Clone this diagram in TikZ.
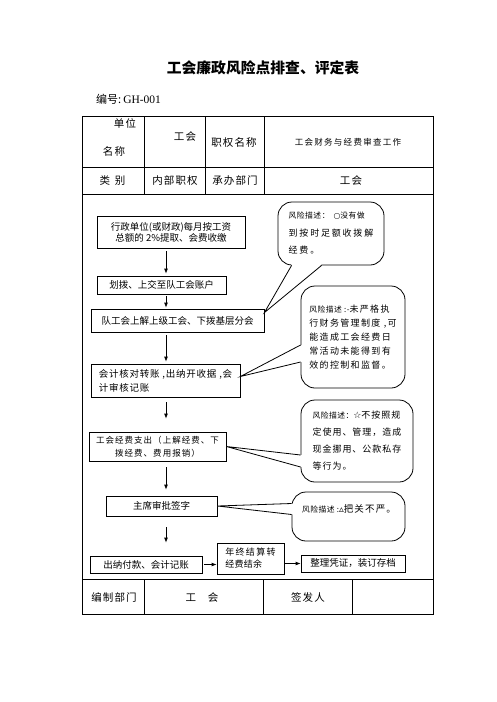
\documentclass[tikz,border=0pt]{standalone}
\usepackage{fontspec}
\setmainfont{Noto Sans CJK SC}
\newfontfamily\symf{DejaVu Sans}
\newfontfamily\serf{Liberation Serif}
\usetikzlibrary{arrows.meta,calc}
\newcommand\fxrisk[1]{{\fontsize{7.8}{9}\selectfont\addfontfeature{LetterSpace=6}#1}}
\begin{document}
\begin{tikzpicture}[x=1pt,y=-1pt,
  tline/.style={line width=0.9pt},
  box/.style={draw, line width=0.8pt, inner sep=0pt, align=center,
    font=\fontsize{9.5}{11}\selectfont},
  bub/.style={draw, fill=white, line width=0.8pt, rounded corners=14pt, inner sep=0pt, align=left},
  arr/.style={line width=0.8pt, -{Latex[length=5pt,width=4pt]}},
  tail/.style={line width=0.8pt},
  cell/.style={inner sep=0pt, font=\fontsize{10.5}{12}\selectfont\addfontfeature{LetterSpace=10}},
]
\fill[white] (0,0) rectangle (496,702);
\useasboundingbox (0,0) rectangle (496,702);

% title
\node[inner sep=0pt, font=\fontsize{14.8}{16}\selectfont\bfseries] (title) at (263,68) {工会廉政风险点排查、评定表};
\node[inner sep=0pt, anchor=west, font=\fontsize{11}{12}\selectfont] (num) at (96,99) {编号:\hspace{2pt}{\serf\fontsize{11.5}{12}\selectfont GH-001}};

% table
\draw[tline] (82,116) rectangle (433,614);
\draw[tline] (82,167) -- (433,167);
\draw[tline] (82,194) -- (433,194);
\draw[tline] (82,579) -- (433,579);
\foreach \xx in {144,205,264} { \draw[tline] (\xx,116) -- (\xx,194); }
\foreach \xx in {144,263,352} { \draw[tline] (\xx,579) -- (\xx,614); }

\node[cell] (c1a) at (125,123) {单位};
\node[cell] (c1b) at (114,151) {名称};
\node[cell] (c2) at (185,137) {工会};
\node[cell] (c3) at (234,142.5) {职权名称};
\node[inner sep=0pt, font=\fontsize{8.5}{10}\selectfont\addfontfeature{LetterSpace=15}] (c4) at (348,142) {工会财务与经费审查工作};
\node[cell] (r2a) at (112.5,181) {类\hspace{5pt}别};
\node[cell] (r2b) at (175,181) {内部职权};
\node[cell] (r2c) at (235,181) {承办部门};
\node[cell] (r2d) at (351,181) {工会};
\node[cell] (f1) at (114,597) {编制部门};
\node[cell] (f2) at (202,597) {工\hspace{12pt}会};
\node[cell] (f3) at (308,597) {签发人};

% flow boxes
\node[box, minimum width=148pt, minimum height=32pt] (b1) at (171,232) {行政单位(或财政)每月按工资\\总额的 2\%提取、会费收缴};
\node[box, minimum width=129pt, minimum height=18pt] (b2) at (161.5,285) {划拨、上交至队工会账户};
\node[box, minimum width=173pt, minimum height=23pt] (b3) at (177.5,320.5) {队工会上解上级工会、下拨基层分会};
\node[box, minimum width=149pt, minimum height=33pt, align=left,
  font=\fontsize{9.5}{14}\selectfont\addfontfeature{LetterSpace=8}] (b4) at (165.5,380.5) {会计核对转账 ,出纳开收据 ,会\\计审核记账};
\node[box, minimum width=137pt, minimum height=29pt,
  font=\fontsize{8.5}{13}\selectfont\addfontfeature{LetterSpace=12}] (b5) at (157.5,446.5) {工会经费支出（上解经费、下\\拨经费、费用报销）};
\node[box, minimum width=111pt, minimum height=20pt] (b6) at (161.5,506) {主席审批签字};
\node[box, minimum width=112pt, minimum height=17pt] (b7) at (146,564.5) {出纳付款、会计记账};
\node[box, minimum width=67pt, minimum height=31pt, align=left,
  font=\fontsize{9}{12}\selectfont] (b8) at (250.5,558.5) {{\addfontfeature{LetterSpace=15}年终结算转}\\{\addfontfeature{LetterSpace=3}经费结余}};
\node[box, minimum width=104pt, minimum height=17pt] (b9) at (353,563.5) {整理凭证，装订存档};

% arrows
\coordinate (ax) at (166,0);
\draw[arr, shorten <=3pt, shorten >=2pt] (ax |- b1.south) -- (ax |- b2.north);
\draw[arr, shorten <=2pt, shorten >=1pt] (ax |- b2.south) -- (ax |- b3.north);
\draw[arr, shorten <=3pt, shorten >=2pt] (ax |- b3.south) -- (ax |- b4.north);
\draw[arr, shorten <=5pt, shorten >=13pt] (ax |- b4.south) -- (ax |- b5.north);
\draw[arr, shorten <=6pt, shorten >=6pt] (ax |- b5.south) -- (ax |- b6.north);
\draw[arr, shorten <=11pt, shorten >=13pt] (ax |- b6.south) -- (ax |- b7.north);
\draw[arr, shorten <=2pt] (b7.east) -- (b7.east -| b8.west);
\draw[arr] (b8.east |- b9.west) -- (b9.west);

% bubbles
\node[bub, minimum width=106pt, minimum height=63pt,
  font=\fontsize{9}{17.5}\selectfont\addfontfeature{LetterSpace=20}] (bub1) at (331,233.5)
  {\fxrisk{风险描述：\hspace{4pt}{\symf ○}没有做}\\到按时足额收拨解\\经费。};
\node[bub, minimum width=104pt, minimum height=102pt,
  font=\fontsize{9}{14}\selectfont\addfontfeature{LetterSpace=15}] (bub2) at (353,337)
  {\fxrisk{风险描述 :-}未严格执\\行财务管理制度 ,可\\能造成工会经费日\\常活动未能得到有\\效的控制和监督。};
\node[bub, minimum width=112pt, minimum height=82pt,
  font=\fontsize{9}{17}\selectfont\addfontfeature{LetterSpace=11}] (bub3) at (357,441)
  {\fxrisk{风险描述：}{\symf ☆}不按照规\\定使用、管理，造成\\现金挪用、公款私存\\等行为。};
\node[bub, minimum width=113pt, minimum height=49pt] (bub4) at (348.5,516.5) {};
\node[inner sep=0pt, font=\fontsize{9.5}{11}\selectfont\addfontfeature{LetterSpace=12}] (t4) at (349,509)
  {\fxrisk{风险描述 :}{\symf ▵}把关不严。};

% tails
\coordinate (t1a) at ($(bub1.south west)+(14,0)$);
\coordinate (t1b) at ($(bub1.south west)+(44,0)$);
\coordinate (t1p) at ($(b3.north east)+(0,4)$);
\fill[white] ($(t1a)+(0,-1.2)$) -- (t1p) -- ($(t1b)+(0,-1.2)$) -- cycle;
\draw[tail] (t1a) -- (t1p) -- (t1b);

\coordinate (t2a) at ($(bub2.west)+(0,8)$);
\coordinate (t2b) at ($(bub2.west)+(0,25)$);
\coordinate (t2p) at ($(b4.east)+(0,-4)$);
\fill[white] ($(t2a)+(1.2,0)$) -- (t2p) -- ($(t2b)+(1.2,0)$) -- cycle;
\draw[tail] (t2a) -- (t2p) -- (t2b);

\coordinate (t3a) at ($(bub3.west)+(0,14)$);
\coordinate (t3b) at ($(bub3.west)+(0,26)$);
\coordinate (t3p) at (b5.east);
\fill[white] ($(t3a)+(1.2,0)$) -- (t3p) -- ($(t3b)+(1.2,0)$) -- cycle;
\draw[tail] (t3a) -- (t3p) -- (t3b);

\coordinate (t4a) at ($(bub4.west)+(0,-13)$);
\coordinate (t4b) at ($(bub4.west)+(0,-2)$);
\coordinate (t4p) at (b6.east);
\fill[white] ($(t4a)+(1.2,0)$) -- (t4p) -- ($(t4b)+(1.2,0)$) -- cycle;
\draw[tail] (t4a) -- (t4p) -- (t4b);
\end{tikzpicture}
\end{document}
